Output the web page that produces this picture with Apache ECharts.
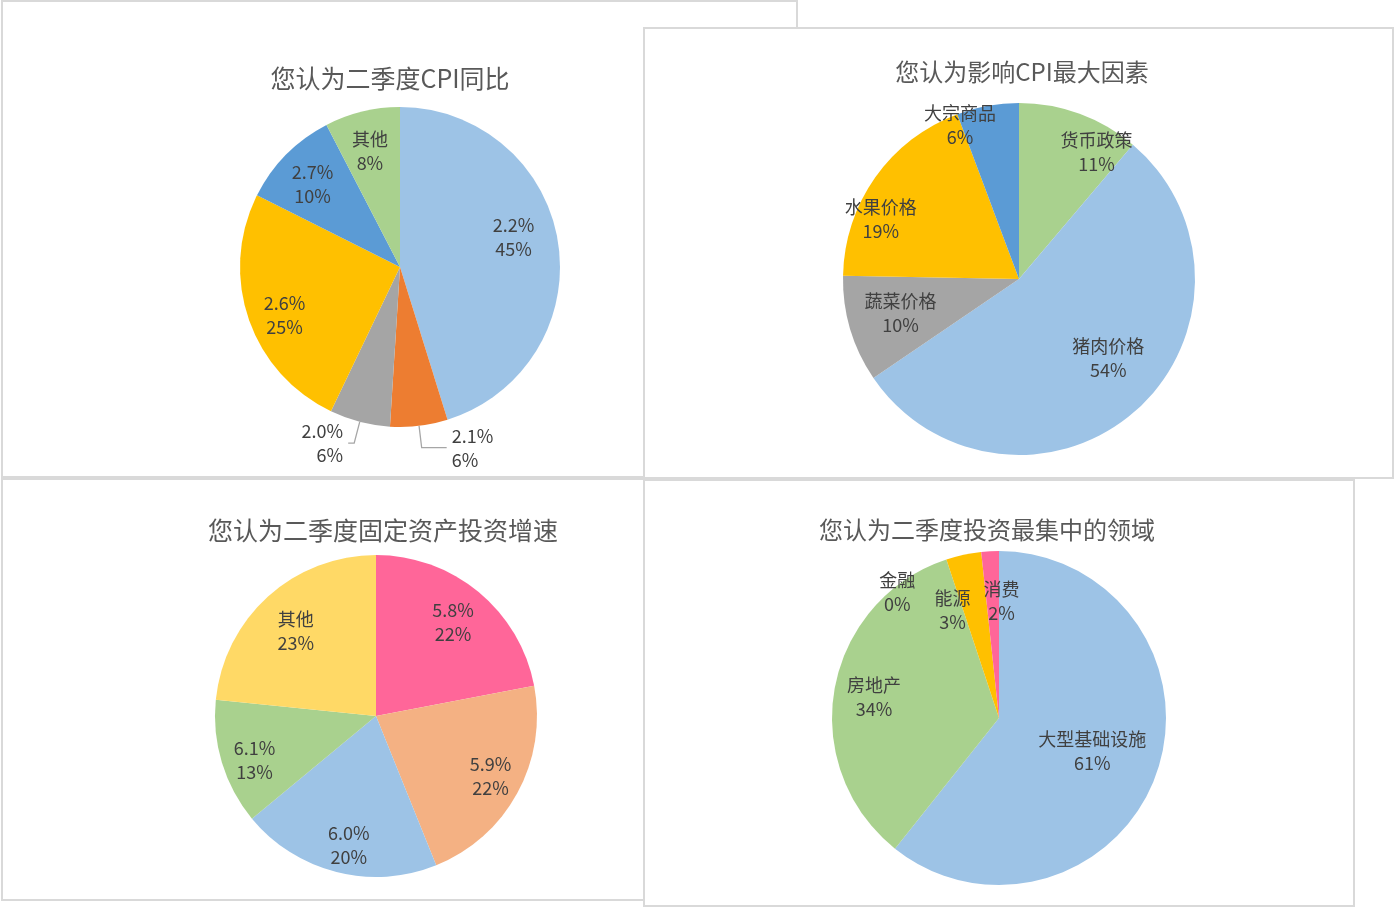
<!DOCTYPE html>
<html>
<head>
<meta charset="utf-8">
<script src="https://cdn.jsdelivr.net/npm/echarts@6/dist/echarts.min.js"></script>
<style>
html,body{margin:0;padding:0;background:#fff;}
#c{width:1395px;height:908px;}
</style>
</head>
<body>
<div id="c"></div>
<script>
// ---------- data ----------
const title1 = '您认为二季度CPI同比';
const names1 = ['2.2%', '2.1%', '2.0%', '2.6%', '2.7%', '其他'];
const values1 = [45.2, 5.8, 6.1, 25.3, 10.0, 7.6];

const title2 = '您认为影响CPI最大因素';
const names2 = ['货币政策', '猪肉价格', '蔬菜价格', '水果价格', '大宗商品'];
const values2 = [11.2, 54.3, 9.8, 19.0, 5.7];

const title3 = '您认为二季度固定资产投资增速';
const names3 = ['5.8%', '5.9%', '6.0%', '6.1%', '其他'];
const values3 = [22.0, 21.9, 20.1, 12.6, 23.4];

const title4 = '您认为二季度投资最集中的领域';
const names4 = ['大型基础设施', '房地产', '金融', '能源', '消费'];
const values4 = [60.7, 34.2, 0, 3.4, 1.7];

// ---------- styles ----------
const colors1 = ['#9DC3E6', '#ED7D31', '#A5A5A5', '#FFC000', '#5B9BD5', '#A9D18E'];
const colors2 = ['#A9D18E', '#9DC3E6', '#A5A5A5', '#FFC000', '#5B9BD5'];
const colors3 = ['#FF6699', '#F4B183', '#9DC3E6', '#A9D18E', '#FFD966'];
const colors4 = ['#9DC3E6', '#A9D18E', '#A9D18E', '#FFC000', '#FF6699'];

const FONT = "'Noto Sans CJK SC', 'Noto Sans', sans-serif";
const TITLE_COLOR = '#595959';
const LABEL_COLOR = '#404040';

// layout of each panel (box, title position, pie geometry, label tuning)
const panels = [
  { box: [2, 1, 795, 476], titlePos: [390, 78], titleSize: 25, center: [400, 267], r: 160,
    title: title1, names: names1, values: values1, colors: colors1, frac: 0.75,
    nudge: [[-8, -11], null, null, [1, 8], [0, 4], [-1, 4]],
    outside: { 1: [22, 25], 2: [22, 6] } },
  { box: [644, 28, 749, 450], titlePos: [1022, 72], titleSize: 24, center: [1019, 279], r: 176,
    title: title2, names: names2, values: values2, colors: colors2, frac: 0.75,
    nudge: [[31, 0], [-1, -21], [11, -4], [-28, 18], [-35, -21]], outside: {} },
  { box: [2, 479, 642, 421], titlePos: [383, 530], titleSize: 25, center: [376, 716], r: 161,
    title: title3, names: names3, values: values3, colors: colors3, frac: 0.77,
    nudge: [[-4, 4], [3, -1], [4, 6], [0, 7], [5, 9]], outside: {} },
  { box: [644, 480, 710, 426], titlePos: [987, 530], titleSize: 24, center: [999, 718], r: 167,
    title: title4, names: names4, values: values4, colors: colors4, frac: 0.7,
    nudge: [[-20, -6], [-7, 0], [-64, -12], [-21, 9], [9, 3]], outside: {} }
];

const labelStyle = {
  color: LABEL_COLOR, fontSize: 18, lineHeight: 24, fontFamily: FONT,
  formatter: '{b}\n{d}%'
};

const graphics = [];
const series = [];

panels.forEach(function (p) {
  graphics.push({
    type: 'rect',
    shape: { x: p.box[0], y: p.box[1], width: p.box[2], height: p.box[3] },
    style: { fill: '#ffffff', stroke: '#d9d9d9', lineWidth: 2 }
  });
  graphics.push({
    type: 'text', x: p.titlePos[0], y: p.titlePos[1],
    style: { text: p.title, fill: TITLE_COLOR, fontSize: p.titleSize, fontFamily: FONT,
             align: 'center', verticalAlign: 'middle' }
  });

  // visible pie
  series.push({
    type: 'pie', center: p.center, radius: p.r, startAngle: 90, clockwise: true,
    percentPrecision: 0, avoidLabelOverlap: false, silent: true, animation: false,
    emphasis: { disabled: true },
    itemStyle: { borderWidth: 0 },
    label: Object.assign({ show: false }, labelStyle),
    labelLine: { show: false, smooth: false, lineStyle: { color: '#a6a6a6', width: 1.3 } },
    data: p.names.map(function (n, i) {
      const o = p.outside[i];
      return {
        name: n, value: p.values[i],
        itemStyle: { color: p.colors[i] },
        label: o ? { show: true, position: 'outside' } : { show: false },
        labelLine: o ? { show: true, length: o[0], length2: o[1] } : { show: false }
      };
    })
  });

  // transparent overlay carrying the inside labels
  const r0 = (2 * p.frac - 1) * p.r;
  series.push({
    type: 'pie', center: p.center, radius: [r0, p.r], startAngle: 90, clockwise: true,
    percentPrecision: 0, avoidLabelOverlap: false, silent: true, animation: false,
    emphasis: { disabled: true }, z: 3,
    itemStyle: { color: 'rgba(0,0,0,0)', borderWidth: 0 },
    label: Object.assign({ show: true, position: 'inside' }, labelStyle),
    labelLine: { show: false },
    labelLayout: function (params) {
      const n = p.nudge[params.dataIndex];
      return n ? { dx: n[0], dy: n[1] } : {};
    },
    data: p.names.map(function (n, i) {
      return { name: n, value: p.values[i], label: { show: !p.outside[i] } };
    })
  });
});

const chart = echarts.init(document.getElementById('c'), null, { renderer: 'canvas' });
chart.setOption({
  backgroundColor: '#ffffff',
  animation: false,
  graphic: { elements: graphics },
  series: series
});
</script>
</body>
</html>
